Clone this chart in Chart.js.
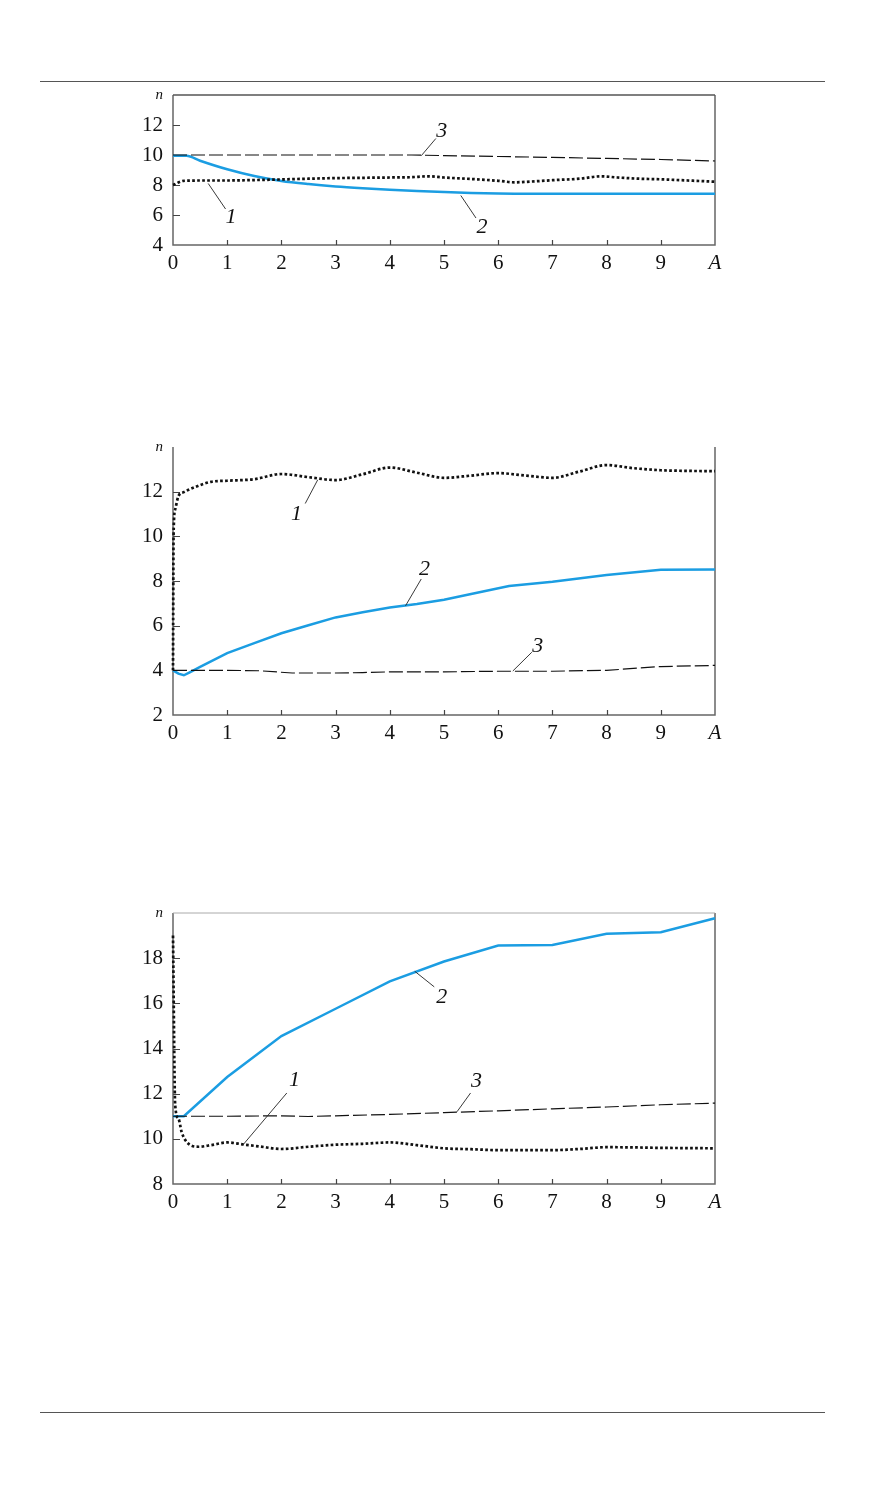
<!DOCTYPE html>
<html>
<head>
<meta charset="utf-8">
<script src="https://cdn.jsdelivr.net/npm/chart.js@4.4.0/dist/chart.umd.min.js"></script>
<style>
  body { margin: 0; background: #fff; width: 870px; height: 1488px; position: relative; overflow: hidden; }
  .rule { position: absolute; left: 40px; width: 785px; height: 0; border-top: 1.5px solid #555; }
  canvas { position: absolute; left: 100px; }
</style>
</head>
<body>
<div class="rule" style="top:81px"></div>
<div class="rule" style="top:1412px"></div>
<canvas id="g1" width="660" height="200" style="top:80px"></canvas>
<canvas id="g2" width="660" height="318" style="top:432px"></canvas>
<canvas id="g3" width="660" height="321" style="top:898px"></canvas>

<script>
// ---- datos: grafico 1 ----
const c1x1 = [0, 0.2, 0.6, 1, 1.5, 2, 2.5, 3, 3.5, 4, 4.4, 4.7, 5, 5.5, 6, 6.3, 6.7, 7, 7.5, 7.9, 8.2, 8.6, 9, 9.5, 10];
const c1n1 = [8.0, 8.28, 8.3, 8.3, 8.33, 8.37, 8.42, 8.46, 8.48, 8.5, 8.52, 8.58, 8.5, 8.4, 8.28, 8.18, 8.25, 8.32, 8.42, 8.58, 8.5, 8.42, 8.38, 8.3, 8.22];
const c1x2 = [0, 0.25, 0.5, 1, 1.5, 2, 2.5, 3, 3.5, 4, 4.5, 5, 5.5, 6, 6.3, 7, 8, 9, 10];
const c1n2 = [9.95, 9.95, 9.62, 9.05, 8.6, 8.27, 8.06, 7.9, 7.78, 7.68, 7.6, 7.53, 7.47, 7.43, 7.42, 7.42, 7.42, 7.42, 7.42];
const c1x3 = [0, 1, 2, 3, 4, 4.4, 5, 6, 7, 8, 9, 10];
const c1n3 = [10, 10, 10, 10, 10, 10, 9.96, 9.9, 9.84, 9.77, 9.7, 9.6];

// ---- datos: grafico 2 ----
const c2x1 = [0, 0.01, 0.04, 0.1, 0.2, 0.4, 0.7, 1, 1.5, 2, 2.5, 3, 3.5, 4, 4.5, 5, 5.5, 6, 6.5, 7, 7.5, 8, 8.5, 9, 9.5, 10];
const c2n1 = [4, 10.0, 11.2, 11.8, 11.98, 12.2, 12.44, 12.49, 12.56, 12.79, 12.65, 12.52, 12.78, 13.08, 12.85, 12.62, 12.72, 12.83, 12.72, 12.62, 12.9, 13.19, 13.05, 12.96, 12.93, 12.92];
const c2x2 = [0, 0.1, 0.2, 0.3, 0.5, 1, 1.5, 2, 2.5, 3, 3.5, 4, 4.5, 5, 5.5, 6.2, 7, 8, 9, 10];
const c2n2 = [4, 3.85, 3.78, 3.9, 4.15, 4.77, 5.22, 5.66, 6.02, 6.37, 6.6, 6.81, 6.97, 7.16, 7.42, 7.78, 7.97, 8.27, 8.5, 8.52];
const c2x3 = [0, 1, 1.6, 2.2, 3, 3.5, 4, 5, 6, 7, 8, 9, 10];
const c2n3 = [4, 4, 3.98, 3.88, 3.88, 3.9, 3.93, 3.93, 3.96, 3.96, 4.0, 4.17, 4.22];

// ---- datos: grafico 3 ----
const c3x1 = [0, 0.04, 0.1, 0.16, 0.25, 0.47, 0.7, 1, 1.3, 1.6, 2, 2.5, 3, 3.5, 4, 4.5, 5, 5.5, 6, 6.5, 7, 7.5, 8, 8.5, 9, 9.5, 10];
const c3n1 = [19.0, 11.5, 10.9, 10.3, 9.87, 9.65, 9.72, 9.84, 9.75, 9.66, 9.55, 9.65, 9.74, 9.78, 9.84, 9.72, 9.58, 9.54, 9.5, 9.5, 9.5, 9.55, 9.63, 9.62, 9.6, 9.59, 9.58];
const c3x2 = [0, 0.2, 1, 2, 3, 4, 5, 6, 7, 8, 9, 10];
const c3n2 = [11.0, 11.0, 12.74, 14.55, 15.76, 16.97, 17.85, 18.56, 18.58, 19.08, 19.15, 19.77];
const c3x3 = [0, 1, 2, 2.5, 3, 4, 5, 6, 7, 8, 9, 10];
const c3n3 = [11.0, 11.0, 11.02, 10.99, 11.02, 11.08, 11.16, 11.24, 11.33, 11.41, 11.51, 11.58];

// etiquetas de curvas: [texto, x, y, x0, y0, x1, y1] (lineas guia)
const rotulos1 = [
  ["3", 4.96, 11.6, 4.58, 9.95, 4.85, 11.1],
  ["1", 1.07, 5.85, 0.65, 8.1, 0.97, 6.4],
  ["2", 5.7, 5.2, 5.31, 7.3, 5.59, 5.8],
];
const rotulos2 = [
  ["1", 2.28, 10.98, 2.67, 12.53, 2.44, 11.47],
  ["2", 4.64, 8.53, 4.29, 6.89, 4.58, 8.09],
  ["3", 6.73, 5.07, 6.27, 3.97, 6.62, 4.81],
];
const rotulos3 = [
  ["2", 4.96, 16.27, 4.46, 17.42, 4.82, 16.73],
  ["1", 2.24, 12.6, 1.29, 9.73, 2.1, 12.03],
  ["3", 5.6, 12.53, 5.24, 11.2, 5.49, 12.03],
];

const FUENTE = "'Liberation Serif', 'DejaVu Serif', serif";
const AZUL = "#1b9de2";

const puntos = (xs, ys) => xs.map((x, i) => ({ x: x, y: ys[i] }));

// marco, marcas interiores y rotulos
const marcoPlugin = {
  id: "marco",
  beforeDatasetsDraw(chart, args, opts) {
    const { ctx, chartArea: a, scales: { x, y } } = chart;
    ctx.save();
    ctx.strokeStyle = "#666";
    ctx.lineWidth = 1.5;
    ctx.beginPath();
    ctx.moveTo(a.left, a.top);
    ctx.lineTo(a.left, a.bottom);
    ctx.lineTo(a.right, a.bottom);
    ctx.lineTo(a.right, a.top);
    ctx.stroke();
    if (opts.arriba) {
      ctx.strokeStyle = opts.arriba;
      ctx.lineWidth = opts.arribaAncho || 1.5;
      ctx.beginPath();
      ctx.moveTo(a.left, a.top);
      ctx.lineTo(a.right, a.top);
      ctx.stroke();
    }
    ctx.strokeStyle = "#444";
    ctx.lineWidth = 1.2;
    ctx.beginPath();
    y.ticks.forEach((t) => {
      if (t.value === y.min || t.value === y.max) return;
      const py = Math.round(y.getPixelForValue(t.value)) + 0.5;
      ctx.moveTo(a.left, py);
      ctx.lineTo(a.left + 7, py);
    });
    x.ticks.forEach((t) => {
      if (t.value === x.min || t.value === x.max) return;
      const px = Math.round(x.getPixelForValue(t.value)) + 0.5;
      ctx.moveTo(px, a.bottom);
      ctx.lineTo(px, a.bottom - 5);
    });
    ctx.stroke();
    ctx.restore();
  },
  afterDatasetsDraw(chart, args, opts) {
    const { ctx, scales: { x, y } } = chart;
    ctx.save();
    ctx.strokeStyle = "#222";
    ctx.lineWidth = 0.9;
    ctx.fillStyle = "#111";
    ctx.font = "italic 22px " + FUENTE;
    ctx.textAlign = "center";
    ctx.textBaseline = "middle";
    (opts.rotulos || []).forEach((r) => {
      ctx.beginPath();
      ctx.moveTo(x.getPixelForValue(r[3]), y.getPixelForValue(r[4]));
      ctx.lineTo(x.getPixelForValue(r[5]), y.getPixelForValue(r[6]));
      ctx.stroke();
      ctx.fillText(r[0], x.getPixelForValue(r[1]), y.getPixelForValue(r[2]));
    });
    ctx.restore();
  },
};

function serie(xs, ys, tipo, curva) {
  const base = {
    data: puntos(xs, ys),
    pointRadius: 0,
    fill: false,
    clip: 4,
    cubicInterpolationMode: curva ? "monotone" : "default",
    tension: 0,
  };
  if (tipo === 1) {
    return Object.assign(base, { borderColor: "#111", borderWidth: 2.7, borderDash: [2.7, 2.3] });
  }
  if (tipo === 2) {
    return Object.assign(base, { borderColor: AZUL, borderWidth: 2.5 });
  }
  return Object.assign(base, { borderColor: "#111", borderWidth: 1.2, borderDash: [14, 4] });
}

function crearGrafico(id, yMin, yMax, datasets, rotulos, arriba) {
  const ctx = document.getElementById(id).getContext("2d");
  return new Chart(ctx, {
    type: "line",
    data: { datasets: datasets },
    options: {
      responsive: false,
      animation: false,
      layout: { padding: { top: 15, right: 45, left: 0, bottom: 0 } },
      plugins: {
        legend: { display: false },
        tooltip: { enabled: false },
        marco: { rotulos: rotulos, arriba: arriba ? arriba.color : null, arribaAncho: arriba ? arriba.ancho : 0 },
      },
      scales: {
        x: {
          type: "linear",
          min: 0,
          max: 10,
          grid: { display: false, drawTicks: false },
          border: { display: false },
          afterFit: (s) => { s.height = 35; s.paddingLeft = 0; s.paddingRight = 0; },
          ticks: {
            stepSize: 1,
            padding: 6,
            color: "#111",
            maxRotation: 0,
            font: (c) => ({ family: FUENTE, size: 21, style: c.tick && c.tick.value === 10 ? "italic" : "normal" }),
            callback: (v) => (v === 10 ? "A" : v),
          },
        },
        y: {
          min: yMin,
          max: yMax,
          grid: { display: false, drawTicks: false },
          border: { display: false },
          afterFit: (s) => { s.width = 73; s.paddingTop = 0; s.paddingBottom = 0; },
          ticks: {
            stepSize: 2,
            padding: 10,
            color: "#111",
            font: (c) => (c.tick && c.tick.value === yMax
              ? { family: FUENTE, size: 15, style: "italic" }
              : { family: FUENTE, size: 21 }),
            callback: (v) => (v === yMax ? "n" : v),
          },
        },
      },
    },
    plugins: [marcoPlugin],
  });
}

document.addEventListener("DOMContentLoaded", () => {
  crearGrafico("g1", 4, 14, [
    serie(c1x3, c1n3, 3, false),
    serie(c1x1, c1n1, 1, true),
    serie(c1x2, c1n2, 2, true),
  ], rotulos1, { color: "#555", ancho: 1.5 });

  crearGrafico("g2", 2, 14, [
    serie(c2x3, c2n3, 3, false),
    serie(c2x1, c2n1, 1, true),
    serie(c2x2, c2n2, 2, false),
  ], rotulos2, null);

  crearGrafico("g3", 8, 20, [
    serie(c3x3, c3n3, 3, false),
    serie(c3x1, c3n1, 1, true),
    serie(c3x2, c3n2, 2, false),
  ], rotulos3, { color: "#aaa", ancho: 1 });
});
</script>
</body>
</html>
